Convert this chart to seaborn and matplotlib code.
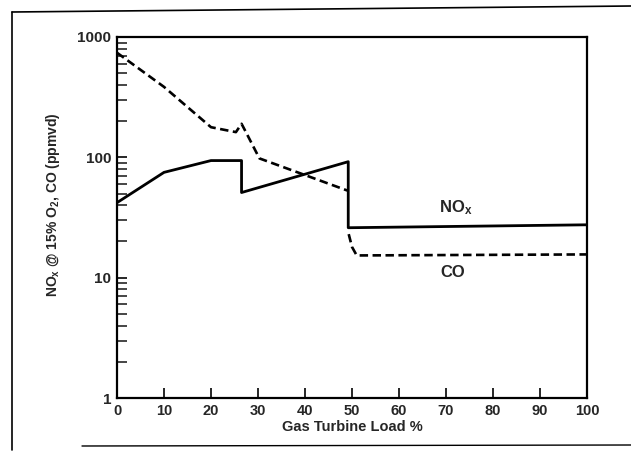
import numpy as np
import pandas as pd
import matplotlib
matplotlib.use('Agg')
import matplotlib.pyplot as plt
from matplotlib.lines import Line2D
from matplotlib.ticker import FixedLocator, NullFormatter
import seaborn as sns

# NOx (solid line)
nox_load = [0, 10, 20, 26.5, 26.5, 49.2, 49.2, 100]
nox_ppm = [42, 75, 94, 94, 51, 92, 26, 27.5]

# CO (dashed line), drawn in two pieces with a gap at 49 % load
co_load_a = [0, 10, 20, 25.3, 26.5, 27.5, 30.3, 49]
co_ppm_a = [740, 385, 178, 162, 190, 160, 98, 53]
co_load_b = [49.3, 50, 51, 100]
co_ppm_b = [23, 18, 15.3, 15.6]

x_ticks = [0, 10, 20, 30, 40, 50, 60, 70, 80, 90, 100]
y_ticks = [1, 10, 100, 1000]

sns.set_style('ticks')
plt.rcParams['font.family'] = ['Liberation Sans', 'DejaVu Sans']
plt.rcParams['mathtext.fontset'] = 'custom'
plt.rcParams['mathtext.rm'] = 'Liberation Sans:bold'
plt.rcParams['mathtext.it'] = 'Liberation Sans:bold'

fig = plt.figure(figsize=(6.31, 4.51), dpi=100)
ax = fig.add_axes([117 / 631, 1 - 398 / 451, 470 / 631, 361 / 451])

nox = pd.DataFrame({'load': nox_load, 'ppm': nox_ppm})
co_a = pd.DataFrame({'load': co_load_a, 'ppm': co_ppm_a})
co_b = pd.DataFrame({'load': co_load_b, 'ppm': co_ppm_b})

sns.lineplot(data=nox, x='load', y='ppm', sort=False, estimator=None,
             color='black', lw=2.0, ax=ax)
for seg in (co_a, co_b):
    sns.lineplot(data=seg, x='load', y='ppm', sort=False, estimator=None,
                 color='black', lw=1.9, dashes=False, ax=ax,
                 linestyle=(0, (3.2, 1.7)))

ax.set_yscale('log')
ax.set_xlim(0, 100)
ax.set_ylim(1, 1000)
ax.set_xticks(x_ticks)
ax.set_yticks(y_ticks)
ax.set_yticklabels([str(t) for t in y_ticks])
ax.yaxis.set_minor_locator(FixedLocator(
    [m * 10 ** e for e in range(3) for m in range(2, 10)]))
ax.yaxis.set_minor_formatter(NullFormatter())

for s in ax.spines.values():
    s.set_linewidth(1.6)
    s.set_color('black')
ax.tick_params(axis='x', which='major', direction='in', length=7,
               width=1.4, labelsize=10.5, pad=4)
ax.tick_params(axis='y', which='major', direction='in', length=7,
               width=1.4, labelsize=11, pad=4)
ax.tick_params(axis='y', which='minor', direction='in', length=7, width=1.2)
for lab in ax.get_xticklabels() + ax.get_yticklabels():
    lab.set_fontweight('bold')

ax.set_xlabel('Gas Turbine Load %', fontsize=10.5, fontweight='bold', labelpad=2)
ax.set_ylabel('NO$_x$ @ 15% O$_2$, CO (ppmvd)', fontsize=10,
              fontweight='bold')
ax.yaxis.set_label_coords(-0.118, 0.535)

ax.text(72, 38, 'NO$_x$', fontsize=12, fontweight='bold', ha='center', va='center')
ax.text(71.5, 11, 'CO', fontsize=12, fontweight='bold', ha='center', va='center')

# page frame lines from the scan
fig.add_artist(Line2D([12 / 631, 12 / 631], [1 - 12 / 451, 1 - 450 / 451],
                      transform=fig.transFigure, color='black', lw=1.2))
fig.add_artist(Line2D([12 / 631, 1.0], [1 - 12 / 451, 1 - 6 / 451],
                      transform=fig.transFigure, color='black', lw=1.2))
fig.add_artist(Line2D([82 / 631, 1.0], [1 - 446 / 451, 1 - 445 / 451],
                      transform=fig.transFigure, color='black', lw=1.0))

fig.savefig('out.png', dpi=100, facecolor='white')
plt.close(fig)
print("saved out.png")
